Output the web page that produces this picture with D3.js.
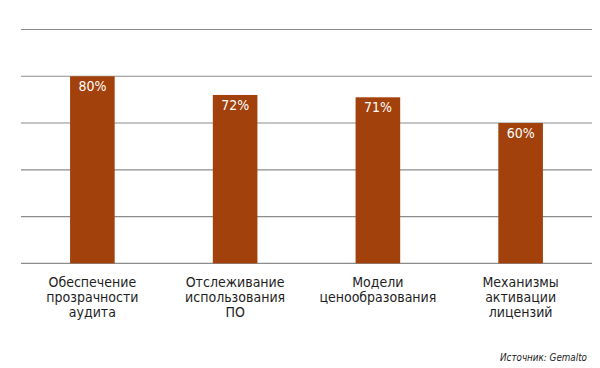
<!DOCTYPE html>
<html><head><meta charset="utf-8">
<script src="https://cdn.jsdelivr.net/npm/d3@7"></script>
<style>body{margin:0;background:#fff}svg{display:block}</style>
</head><body>
<script>
const categories = [["Обеспечение","прозрачности","аудита"],["Отслеживание","использования","ПО"],["Модели","ценообразования"],["Механизмы","активации","лицензий"]];
const values = [80, 72, 71, 60];
const gridTicks = [0, 20, 40, 60, 80, 100];
const source = "Источник: Gemalto";

const W = 600, H = 368;
const FONT = "'Liberation Sans Narrow','DejaVu Sans Condensed','Arial Narrow',sans-serif";
const svg = d3.select("body").append("svg").attr("width", W).attr("height", H);
const x = d3.scaleBand().domain(d3.range(categories.length)).range([21, 592]).paddingInner(0.6875).paddingOuter(0.34375);
const y = d3.scaleLinear().domain([0, 100]).range([263.3, 29.5]);

svg.append("g").selectAll("line").data(gridTicks).join("line")
  .attr("x1", 21).attr("x2", 592)
  .attr("y1", d => y(d)).attr("y2", d => y(d))
  .attr("stroke", "#8c8c8c").attr("stroke-width", 1.2);

svg.append("g").selectAll("rect").data(values).join("rect")
  .attr("x", (d, i) => x(i)).attr("width", x.bandwidth())
  .attr("y", d => y(d)).attr("height", d => y(0) - y(d))
  .attr("fill", "#A2410B");

svg.append("g").selectAll("text").data(values).join("text")
  .attr("x", (d, i) => x(i) + x.bandwidth() / 2)
  .attr("y", d => y(d) + 15)
  .attr("text-anchor", "middle").attr("fill", "#fff")
  .attr("font-family", FONT).attr("font-size", 14)
  .text(d => d + "%");

const lab = svg.append("g").selectAll("text").data(categories).join("text")
  .attr("x", (d, i) => x(i) + x.bandwidth() / 2)
  .attr("y", 287)
  .attr("text-anchor", "middle").attr("fill", "#1e1e1e")
  .attr("font-family", FONT).attr("font-size", 14);
lab.selectAll("tspan").data(d => d).join("tspan")
  .attr("x", function () { return d3.select(this.parentNode).attr("x"); })
  .attr("dy", (d, i) => i === 0 ? 0 : 15)
  .text(d => d);

svg.append("text").attr("x", 587).attr("y", 361)
  .attr("text-anchor", "end").attr("fill", "#222")
  .attr("font-family", FONT).attr("font-size", 11).attr("font-style", "italic")
  .attr("textLength", 87).attr("lengthAdjust", "spacingAndGlyphs")
  .text(source);
</script>
</body></html>
